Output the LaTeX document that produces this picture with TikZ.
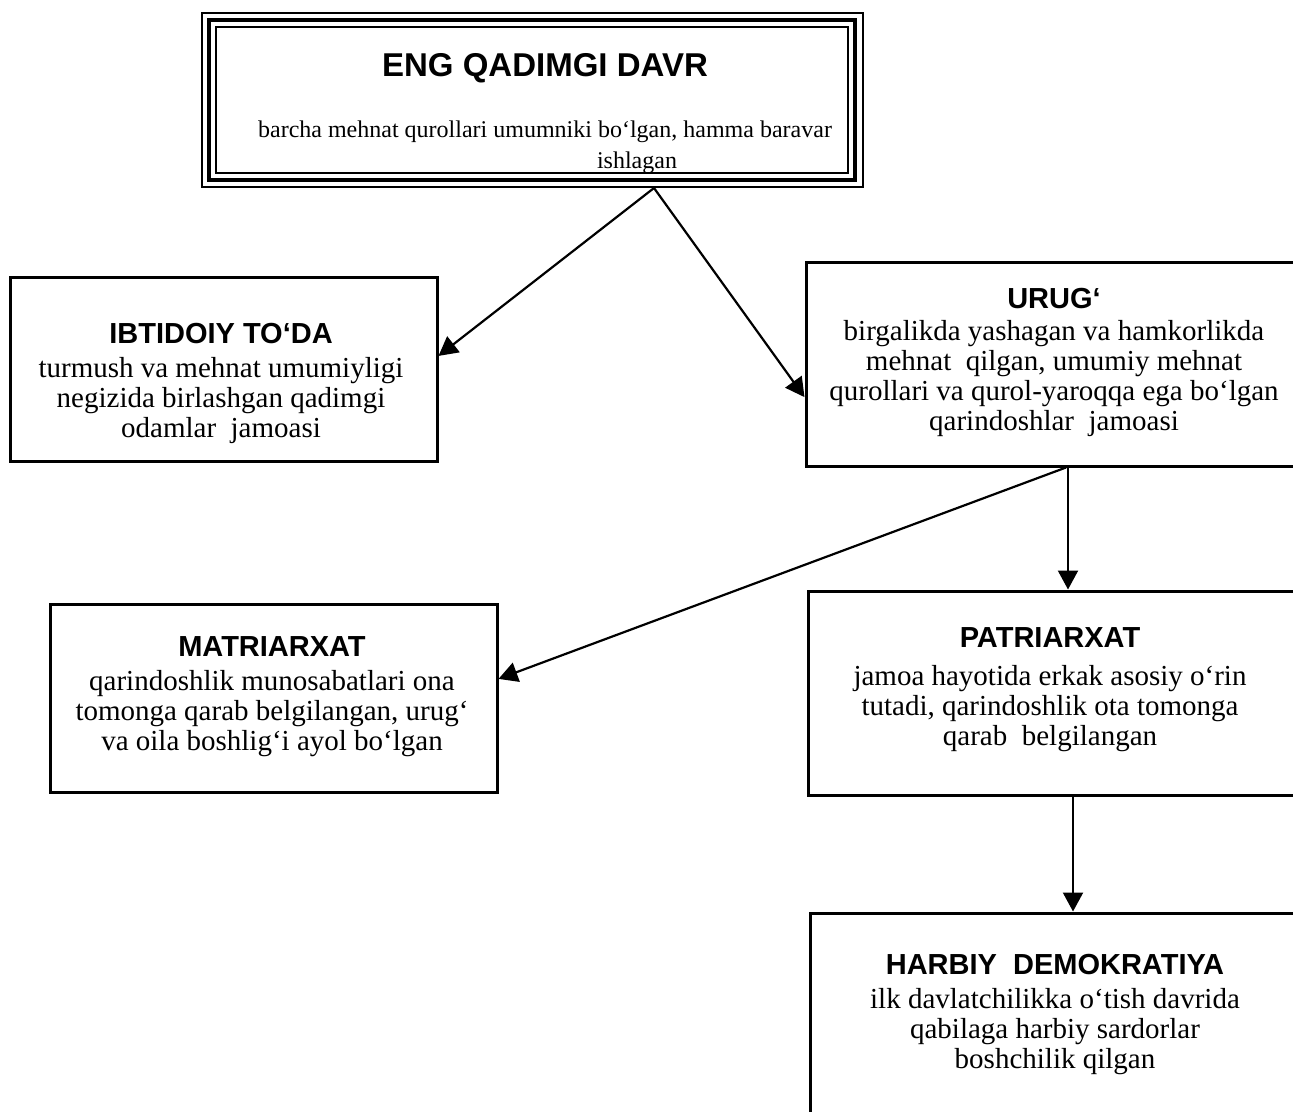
\documentclass[tikz,border=0pt]{standalone}
\usepackage{fontspec}
\setmainfont{Liberation Serif}
\newfontfamily\headfont{Liberation Sans}
\usetikzlibrary{arrows.meta,calc}
\tikzset{
  frame/.style={draw, line width=3pt, inner sep=0pt},
  blurb/.style={align=center, inner sep=0pt, font=\fontsize{29}{30}\selectfont},
  link/.style={line width=2.2pt, -{Triangle[length=19pt,width=20pt]}},
}
\newcommand{\boxhead}[1]{{\headfont\bfseries\fontsize{29}{30}\selectfont #1}}
\begin{document}
\begin{tikzpicture}[x=1pt,y=-1pt]
\useasboundingbox (0,0) rectangle (1293,1111);
\clip (0,0) rectangle (1293,1111);
% top box, three frames
\node[draw, line width=2pt, inner sep=0pt, minimum width=661pt, minimum height=174pt] (davr) at (532,100) {};
\draw[line width=4.5pt] (209,20) rectangle (855,180);
\draw[line width=1.5pt] (216,27) rectangle (848,173);
\node[blurb, anchor=north, font=\fontsize{24}{31}\selectfont] (davrtxt) at (545,53)
  {{\headfont\bfseries\fontsize{33}{36}\selectfont ENG QADIMGI DAVR}\\[30pt]
   barcha mehnat qurollari umumniki bo‘lgan, hamma baravar\\ \hspace*{184pt}ishlagan};
% boxes
\node[frame, minimum width=427pt, minimum height=184pt] (ibt) at (223.5,369) {};
\node[frame, minimum width=495pt, minimum height=204pt] (urug) at (1053.5,364) {};
\node[frame, minimum width=447pt, minimum height=188pt] (matri) at (273.5,698) {};
\node[frame, minimum width=492pt, minimum height=204pt] (patri) at (1054,693) {};
\node[frame, minimum width=490pt, minimum height=217pt] (harbiy) at (1055,1021.5) {};
% texts
\node[blurb, anchor=north] (ibttxt) at (221,323)
  {\boxhead{IBTIDOIY TO‘DA}\\[4pt] turmush va mehnat umumiyligi\\ negizida birlashgan qadimgi\\ odamlar\ \ jamoasi};
\node[blurb, anchor=north] (urugtxt) at (1054,288)
  {\boxhead{URUG‘}\\[2pt] birgalikda yashagan va hamkorlikda\\ mehnat\ \ qilgan, umumiy mehnat\\ qurollari va qurol-yaroqqa ega bo‘lgan\\ qarindoshlar\ \ jamoasi};
\node[blurb, anchor=north] (matritxt) at (272,636)
  {\boxhead{MATRIARXAT}\\[4pt] qarindoshlik munosabatlari ona\\ tomonga qarab belgilangan, urug‘\\ va oila boshlig‘i ayol bo‘lgan};
\node[blurb, anchor=north] (patritxt) at (1050,627)
  {\boxhead{PATRIARXAT}\\[8pt] jamoa hayotida erkak asosiy o‘rin\\ tutadi, qarindoshlik ota tomonga\\ qarab\ \ belgilangan};
\node[blurb, anchor=north] (harbiytxt) at (1055,954)
  {\boxhead{HARBIY\ \ DEMOKRATIYA}\\[4pt] ilk davlatchilikka o‘tish davrida\\ qabilaga harbiy sardorlar\\ boshchilik qilgan};
% arrows
\coordinate (apex) at (davr.south -| 654,0);
\draw[link] (apex) -- ($(ibt.north east)!0.43!(ibt.south east)$);
\draw[link] (apex) -- ($(urug.north west)!0.66!(urug.south west)$);
\draw[link] (urug.south -| 1066,0) -- ($(matri.north east)!0.40!(matri.south east)$);
\draw[link] (urug.south -| 1068,0) -- (patri.north -| 1068,0);
\draw[link] (patri.south -| 1073,0) -- (harbiy.north -| 1073,0);
\end{tikzpicture}
\end{document}
